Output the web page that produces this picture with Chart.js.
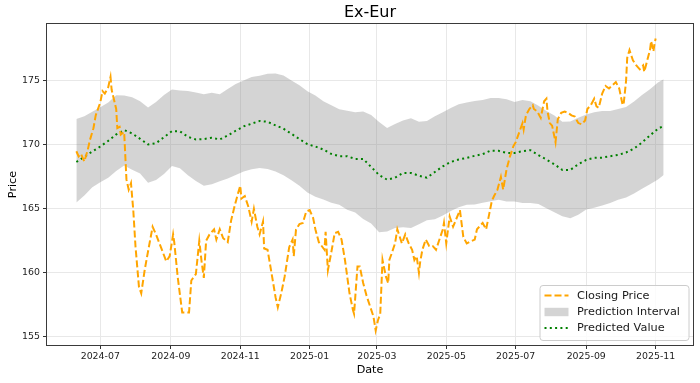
<!DOCTYPE html>
<html><head><meta charset="utf-8">
<script src="https://cdn.jsdelivr.net/npm/chart.js@4.4.1/dist/chart.umd.min.js"></script>
<style>html,body{margin:0;padding:0;background:#fff;}#wrap{width:700px;height:383px;}</style>
</head><body><div id="wrap"><canvas id="c" width="700" height="383"></canvas></div>
<script>
const chartTitle = 'Ex-Eur';
const xAxisTitle = 'Date';
const yAxisTitle = 'Price';
const seriesLabels = ['Closing Price', 'Prediction Interval', 'Predicted Value'];
const xTickLabels = ['2024-07','2024-09','2024-11','2025-01','2025-03','2025-05','2025-07','2025-09','2025-11'];
const yTickValues = [155, 160, 165, 170, 175];

const closeDates = ['2024-06-10','2024-06-12','2024-06-14','2024-06-17','2024-06-20','2024-06-22','2024-06-25','2024-06-27','2024-07-01','2024-07-03','2024-07-05','2024-07-08','2024-07-10','2024-07-11','2024-07-15','2024-07-16','2024-07-18','2024-07-19','2024-07-22','2024-07-24','2024-07-26','2024-07-28','2024-07-30','2024-08-01','2024-08-04','2024-08-06','2024-08-09','2024-08-11','2024-08-16','2024-08-19','2024-08-22','2024-08-25','2024-08-28','2024-08-31','2024-09-03','2024-09-04','2024-09-07','2024-09-10','2024-09-11','2024-09-17','2024-09-19','2024-09-23','2024-09-26','2024-09-28','2024-09-30','2024-10-02','2024-10-05','2024-10-09','2024-10-11','2024-10-14','2024-10-17','2024-10-21','2024-10-24','2024-10-27','2024-10-30','2024-11-01','2024-11-02','2024-11-05','2024-11-08','2024-11-11','2024-11-13','2024-11-16','2024-11-18','2024-11-21','2024-11-22','2024-11-25','2024-11-29','2024-12-02','2024-12-04','2024-12-07','2024-12-10','2024-12-14','2024-12-17','2024-12-18','2024-12-20','2024-12-23','2024-12-26','2024-12-29','2025-01-01','2025-01-04','2025-01-06','2025-01-09','2025-01-14','2025-01-15','2025-01-17','2025-01-20','2025-01-23','2025-01-26','2025-01-29','2025-02-01','2025-02-03','2025-02-05','2025-02-08','2025-02-09','2025-02-12','2025-02-14','2025-02-17','2025-02-20','2025-02-23','2025-02-26','2025-02-28','2025-03-02','2025-03-04','2025-03-06','2025-03-09','2025-03-11','2025-03-12','2025-03-14','2025-03-17','2025-03-19','2025-03-23','2025-03-26','2025-03-29','2025-04-01','2025-04-03','2025-04-05','2025-04-07','2025-04-08','2025-04-10','2025-04-13','2025-04-16','2025-04-19','2025-04-22','2025-04-25','2025-04-28','2025-04-29','2025-05-01','2025-05-04','2025-05-07','2025-05-13','2025-05-16','2025-05-19','2025-05-26','2025-05-28','2025-06-02','2025-06-05','2025-06-08','2025-06-10','2025-06-12','2025-06-15','2025-06-18','2025-06-20','2025-06-23','2025-06-26','2025-06-29','2025-07-01','2025-07-03','2025-07-07','2025-07-08','2025-07-10','2025-07-13','2025-07-16','2025-07-17','2025-07-20','2025-07-23','2025-07-26','2025-07-28','2025-07-29','2025-07-31','2025-08-02','2025-08-05','2025-08-07','2025-08-10','2025-08-13','2025-08-16','2025-08-19','2025-08-22','2025-08-25','2025-08-28','2025-08-31','2025-09-02','2025-09-05','2025-09-08','2025-09-10','2025-09-12','2025-09-15','2025-09-18','2025-09-21','2025-09-27','2025-09-30','2025-10-03','2025-10-04','2025-10-06','2025-10-07','2025-10-09','2025-10-12','2025-10-15','2025-10-18','2025-10-21','2025-10-22','2025-10-24','2025-10-27','2025-10-28','2025-10-30','2025-10-31','2025-11-01'];
const closeValues = [169.5,169.1,169.3,168.7,169.6,170.4,171.3,172.3,173.3,174.2,174.0,174.5,175.3,174.3,172.8,171.3,171.4,170.8,171.0,167.3,166.5,167.0,164.9,162.0,158.9,158.4,160.2,161.2,163.6,163.0,162.3,161.6,160.9,161.3,163.0,162.4,159.7,157.6,156.9,156.9,159.4,159.9,162.5,160.9,159.6,162.5,163.0,163.4,162.6,163.4,162.7,162.4,164.1,165.2,166.2,166.8,165.8,166.0,165.2,164.0,165.0,163.6,163.0,164.0,161.9,161.8,159.7,158.1,157.3,158.4,159.7,162.0,162.6,161.3,163.4,163.8,163.9,164.8,164.9,164.3,163.4,162.4,161.8,163.2,160.2,161.6,163.1,163.2,162.6,161.0,159.7,158.4,157.1,156.8,160.5,160.5,159.2,158.2,157.4,156.6,155.5,156.3,156.8,161.0,159.7,159.2,161.0,161.5,162.3,163.4,162.3,163.0,162.3,161.8,161.0,161.3,160.0,160.8,161.8,162.6,162.1,162.1,161.8,162.6,163.4,163.9,162.3,164.4,163.6,164.9,162.8,162.3,162.6,163.4,163.9,163.4,164.7,165.6,166.0,166.5,167.5,166.5,168.1,169.1,169.9,170.2,170.7,171.7,171.2,172.3,172.8,173.1,172.8,172.6,172.1,173.4,173.6,172.6,171.7,171.5,170.2,172.0,172.5,172.6,172.5,172.3,172.2,171.7,171.6,171.9,172.8,173.1,173.6,173.0,172.9,174.0,174.6,174.4,174.9,174.4,173.1,173.3,175.0,176.8,177.4,176.6,176.2,175.9,176.2,175.7,176.4,177.4,178.1,177.3,177.9,178.3];

const predDates = ['2024-06-10','2024-06-17','2024-06-24','2024-07-01','2024-07-08','2024-07-15','2024-07-22','2024-07-29','2024-08-05','2024-08-12','2024-08-19','2024-08-26','2024-09-02','2024-09-09','2024-09-16','2024-09-23','2024-09-30','2024-10-07','2024-10-14','2024-10-21','2024-10-28','2024-11-04','2024-11-11','2024-11-18','2024-11-25','2024-12-02','2024-12-09','2024-12-16','2024-12-23','2024-12-30','2025-01-06','2025-01-13','2025-01-20','2025-01-27','2025-02-03','2025-02-10','2025-02-17','2025-02-24','2025-03-03','2025-03-10','2025-03-17','2025-03-24','2025-03-31','2025-04-07','2025-04-14','2025-04-21','2025-04-28','2025-05-05','2025-05-12','2025-05-19','2025-05-26','2025-06-02','2025-06-09','2025-06-16','2025-06-23','2025-06-30','2025-07-07','2025-07-14','2025-07-21','2025-07-28','2025-08-04','2025-08-11','2025-08-18','2025-08-25','2025-09-01','2025-09-08','2025-09-15','2025-09-22','2025-09-29','2025-10-06','2025-10-13','2025-10-20','2025-10-27','2025-11-03','2025-11-08'];
const predValues = [168.66,169.06,169.48,169.87,170.31,170.81,171.15,170.89,170.47,170.03,170.13,170.6,171.07,171.05,170.63,170.42,170.45,170.55,170.42,170.73,171.1,171.44,171.65,171.86,171.8,171.52,171.26,170.86,170.45,170.05,169.87,169.63,169.29,169.11,169.11,168.9,168.9,168.27,167.64,167.28,167.43,167.8,167.8,167.59,167.43,167.88,168.32,168.66,168.85,168.98,169.14,169.27,169.55,169.53,169.37,169.37,169.5,169.58,169.19,168.85,168.48,168.04,168.04,168.48,168.82,168.98,169.0,169.11,169.21,169.4,169.71,170.18,170.73,171.26,171.47];
const upperValues = [172.02,172.23,172.59,172.93,173.3,173.87,173.85,173.72,173.4,172.91,173.35,173.9,174.32,174.24,174.21,174.08,173.95,174.06,173.95,174.37,174.76,175.03,175.29,175.39,175.55,175.58,175.42,175.03,174.66,174.19,173.85,173.4,173.09,172.77,172.67,172.55,172.6,172.33,171.78,171.31,171.62,171.91,172.07,171.81,171.86,172.23,172.54,172.88,173.17,173.3,173.43,173.51,173.66,173.66,173.56,173.35,173.51,173.4,173.06,172.64,172.3,171.81,171.83,172.12,172.36,172.54,172.64,172.64,172.8,172.96,173.38,173.9,174.35,174.87,175.13];
const lowerValues = [165.5,166.05,166.68,167.07,167.43,167.96,168.38,168.06,167.75,167.04,167.25,167.72,168.35,168.17,167.62,167.17,166.81,166.91,167.15,167.36,167.64,167.91,168.09,168.19,168.12,167.91,167.62,167.23,166.81,166.28,165.94,165.73,165.47,165.31,164.92,164.71,164.21,163.85,163.17,163.22,163.51,163.56,163.51,163.8,164.11,164.19,164.48,164.82,165.13,165.31,165.34,165.47,165.6,165.71,165.58,165.58,165.45,165.45,165.37,165.05,164.74,164.42,164.27,164.53,164.95,165.08,165.26,165.45,165.71,165.89,166.2,166.57,166.91,167.3,167.64];

const DAY = 86400000;
function toDay(s) { const p = s.split('-').map(Number); return Date.UTC(p[0], p[1] - 1, p[2] || 1) / DAY; }
function pts(dates, vals) { return dates.map((d, i) => ({ x: toDay(d), y: vals[i] })); }

const allX = predDates.concat(closeDates).map(toDay);
const dMin = Math.min(...allX), dMax = Math.max(...allX);
const allY = closeValues.concat(upperValues, lowerValues);
const vMin = Math.min(...allY), vMax = Math.max(...allY);
const xPad = (dMax - dMin) * 0.05, yPad = (vMax - vMin) * 0.05;

const ORANGE = '#FFA500', GREEN = '#008000', BAND = 'rgba(128,128,128,0.34)';
const FONT = 'DejaVu Sans';
Chart.defaults.font.family = FONT;

const framePlugin = {
  id: 'frame',
  afterDatasetsDraw(chart) {
    const { ctx, chartArea: a } = chart;
    ctx.save();
    ctx.strokeStyle = '#3a3a3a';
    ctx.lineWidth = 1;
    ctx.strokeRect(Math.round(a.left) - 0.5, Math.round(a.top) - 0.5, Math.round(a.right - a.left) + 1, Math.round(a.bottom - a.top) + 1);
    ctx.restore();
  }
};

const legendPlugin = {
  id: 'mplLegend',
  afterDraw(chart) {
    const { ctx, chartArea: a } = chart;
    const fs = 11.3;
    const w = 149, h = 55;
    const x0 = a.right - 4.5 - w, y0 = a.bottom - 5 - h;
    ctx.save();
    ctx.beginPath();
    if (ctx.roundRect) ctx.roundRect(x0 + 0.5, y0 + 0.5, w, h, 3); else ctx.rect(x0 + 0.5, y0 + 0.5, w, h);
    ctx.fillStyle = 'rgba(255,255,255,0.8)';
    ctx.fill();
    ctx.strokeStyle = '#cccccc';
    ctx.lineWidth = 1;
    ctx.stroke();
    const hx1 = x0 + 5, hx2 = x0 + 29, tx = x0 + 37.5;
    const rows = [y0 + 10.5, y0 + 27, y0 + 43];
    // Closing price handle
    ctx.strokeStyle = ORANGE; ctx.lineWidth = 2; ctx.setLineDash([7, 3]);
    ctx.beginPath(); ctx.moveTo(hx1, rows[0]); ctx.lineTo(hx2, rows[0]); ctx.stroke();
    // Band handle
    ctx.setLineDash([]);
    ctx.fillStyle = BAND; ctx.fillRect(hx1, rows[1] - 4.2, hx2 - hx1, 8.4);
    // Predicted handle
    ctx.strokeStyle = GREEN; ctx.lineWidth = 2; ctx.setLineDash([2, 3.3]);
    ctx.beginPath(); ctx.moveTo(hx1, rows[2]); ctx.lineTo(hx2, rows[2]); ctx.stroke();
    ctx.setLineDash([]);
    ctx.fillStyle = '#1a1a1a';
    ctx.font = fs + 'px "' + FONT + '"';
    ctx.textBaseline = 'middle';
    ctx.textAlign = 'left';
    ctx.fillText(seriesLabels[0], tx, rows[0] + 0.5);
    ctx.fillText(seriesLabels[1], tx, rows[1] + 0.5);
    ctx.fillText(seriesLabels[2], tx, rows[2] + 0.5);
    ctx.restore();
  }
};

const tickFont = { family: FONT, size: 9.4 };
const labelFont = { family: FONT, size: 11.2 };

new Chart(document.getElementById('c'), {
  type: 'line',
  data: {
    datasets: [
      { label: seriesLabels[0], data: pts(closeDates, closeValues), borderColor: ORANGE, borderWidth: 2, borderDash: [7, 3], fill: false, pointRadius: 0, tension: 0 },
      { label: seriesLabels[2], data: pts(predDates, predValues), borderColor: GREEN, borderWidth: 2, borderDash: [2, 3.3], fill: false, pointRadius: 0, tension: 0 },
      { label: 'lower', data: pts(predDates, lowerValues), borderColor: 'rgba(0,0,0,0)', borderWidth: 0, fill: false, pointRadius: 0, tension: 0 },
      { label: seriesLabels[1], data: pts(predDates, upperValues), borderColor: 'rgba(0,0,0,0)', borderWidth: 0, backgroundColor: BAND, fill: '-1', pointRadius: 0, tension: 0 }
    ]
  },
  options: {
    responsive: false,
    animation: false,
    devicePixelRatio: 1,
    layout: { padding: { left: 0, right: 7, top: 0, bottom: 0 } },
    plugins: {
      legend: { display: false },
      tooltip: { enabled: false },
      title: { display: true, text: chartTitle, fullSize: false, color: '#000', font: { family: FONT, size: 16, weight: 'normal' }, padding: { top: 3.4, bottom: 1.4 } }
    },
    scales: {
      x: {
        type: 'linear',
        min: dMin - xPad,
        max: dMax + xPad,
        afterBuildTicks: s => { s.ticks = xTickLabels.map(l => ({ value: toDay(l) })); },
        afterFit: s => { s.height = 38; },
        grid: { color: '#e8e8e8', lineWidth: 1, tickLength: 4, tickColor: '#333', drawTicks: true },
        border: { display: false },
        ticks: { font: tickFont, color: '#222', padding: 2, maxRotation: 0, autoSkip: false, callback: (v, i) => xTickLabels[i] },
        title: { display: true, text: xAxisTitle, color: '#000', font: labelFont, padding: { top: 0, bottom: 6.3 } }
      },
      y: {
        type: 'linear',
        min: vMin - yPad,
        max: vMax + yPad,
        afterBuildTicks: s => { s.ticks = yTickValues.map(v => ({ value: v })); },
        afterFit: s => { s.width = 47; },
        grid: { color: '#e8e8e8', lineWidth: 1, tickLength: 4, tickColor: '#333', drawTicks: true },
        border: { display: false },
        ticks: { font: tickFont, color: '#222', padding: 3, callback: v => String(v) },
        title: { display: true, text: yAxisTitle, color: '#000', font: labelFont, padding: { top: 6.6, bottom: 0 } }
      }
    }
  },
  plugins: [framePlugin, legendPlugin]
});
</script>
</body></html>
